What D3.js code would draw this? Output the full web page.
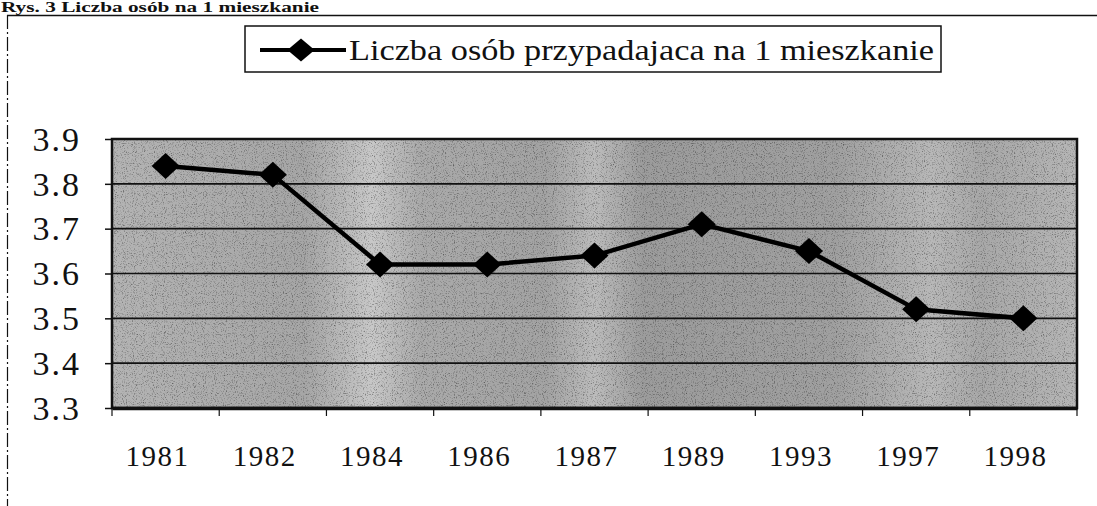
<!DOCTYPE html>
<html><head><meta charset="utf-8">
<script src="https://cdn.jsdelivr.net/npm/d3@7"></script>
<style>
html,body{margin:0;padding:0;background:#fff;}
svg{display:block;}
</style></head>
<body>
<svg id="chart" width="1097" height="506"></svg>
<script>
const years = ["1981","1982","1984","1986","1987","1989","1993","1997","1998"];
const persons = [3.84, 3.82, 3.62, 3.62, 3.64, 3.71, 3.65, 3.52, 3.50];
const yTicks = [3.3, 3.4, 3.5, 3.6, 3.7, 3.8, 3.9];
const seriesName = "Liczba osób przypadajaca na 1 mieszkanie";
const caption = "Rys. 3 Liczba osób na 1 mieszkanie";

const FONT = "'Liberation Serif'";
const svg = d3.select("#chart");
const L = 112, R = 1077, T = 139, B = 408;

const x = d3.scaleBand().domain(years).range([L, R]).paddingInner(0).paddingOuter(0);
const y = d3.scaleLinear().domain([3.3, 3.9]).range([B, T]);

const defs = svg.append("defs");
const grad = defs.append("linearGradient").attr("id","bg").attr("x1","0").attr("x2","1").attr("y1","0").attr("y2","0");
[[0,"#b4b4b4"],[0.2,"#a6a6a6"],[0.27,"#c8c8c8"],[0.32,"#aaaaaa"],[0.45,"#a3a3a3"],[0.5,"#bcbcbc"],[0.55,"#9c9c9c"],[0.75,"#a0a0a0"],[0.85,"#b8b8b8"],[0.9,"#a8a8a8"],[1,"#b6b6b6"]]
  .forEach(([o,c]) => grad.append("stop").attr("offset",o).attr("stop-color",c));
const f = defs.append("filter").attr("id","noise").attr("x","0").attr("y","0").attr("width","100%").attr("height","100%");
f.append("feTurbulence").attr("type","fractalNoise").attr("baseFrequency","0.9").attr("numOctaves","2").attr("seed","3").attr("result","n");
f.append("feColorMatrix").attr("in","n").attr("type","matrix")
  .attr("values","0 0 0 0 0  0 0 0 0 0  0 0 0 0 0  -2.2 0 0 0 1.05").attr("result","m");
f.append("feComposite").attr("in","m").attr("in2","SourceGraphic").attr("operator","in");

// caption (top)
svg.append("text").attr("x", 1).attr("y", 12).style("font-family", FONT).style("font-size","15px").style("font-weight","bold")
  .attr("fill","#111").attr("textLength",318).attr("lengthAdjust","spacingAndGlyphs").text(caption);

// outer frame
svg.append("line").attr("x1",7).attr("x2",1097).attr("y1",15.5).attr("y2",15.5).attr("stroke","#111").attr("stroke-width",1.5);
svg.append("line").attr("x1",7.5).attr("x2",7.5).attr("y1",15).attr("y2",506).attr("stroke","#111").attr("stroke-width",1.2).attr("stroke-dasharray","14 3 2 3");

// plot background
svg.append("rect").attr("x",L).attr("y",T).attr("width",R-L).attr("height",B-T).attr("fill","url(#bg)");
svg.append("rect").attr("x",L).attr("y",T).attr("width",R-L).attr("height",B-T).attr("fill","#fff").attr("filter","url(#noise)").attr("opacity",0.55);

// gridlines
svg.append("g").selectAll("line").data(yTicks.filter(d => d > 3.3 && d < 3.9)).join("line")
  .attr("x1",L).attr("x2",R).attr("y1",d=>y(d)).attr("y2",d=>y(d)).attr("stroke","#111").attr("stroke-width",1.6);

// border
svg.append("rect").attr("x",L).attr("y",T).attr("width",R-L).attr("height",B-T).attr("fill","none").attr("stroke","#111").attr("stroke-width",2.5);

// y axis
const yAxis = d3.axisLeft(y).tickValues(yTicks).tickFormat(d3.format(".1f")).tickSize(7).tickPadding(24);
const gy = svg.append("g").attr("transform",`translate(${L},0)`).call(yAxis);
gy.attr("font-family", null).attr("font-size", null);
gy.select(".domain").remove();
gy.selectAll("line").attr("stroke","#111").attr("stroke-width",1.5);
gy.selectAll("text").style("font-family", FONT).style("font-size","34px").attr("fill","#111").attr("dy","0.33em").attr("letter-spacing",2);

// x axis
const xAxis = d3.axisBottom(x).tickSize(0).tickPadding(37);
const gx = svg.append("g").attr("transform",`translate(0,${B})`).call(xAxis);
gx.attr("font-family", null).attr("font-size", null);
gx.select(".domain").attr("stroke","#111").attr("stroke-width",3.5);
gx.selectAll("text").style("font-family", FONT).style("font-size","29px").attr("fill","#111").attr("letter-spacing",1.5).attr("dx",-8);
// category tick marks at band boundaries
svg.append("g").selectAll("line").data(years.concat(["end"])).join("line")
  .attr("x1",(d,i)=> i<years.length ? x(d) : R).attr("x2",(d,i)=> i<years.length ? x(d) : R)
  .attr("y1",B).attr("y2",B+8).attr("stroke","#111").attr("stroke-width",1.2);

// line + markers
const cx = d => x(d) + x.bandwidth()/2;
svg.append("path").datum(years.map((d,i)=>[cx(d), y(persons[i])]))
  .attr("d", d3.line()).attr("fill","none").attr("stroke","#000").attr("stroke-width",4.5).attr("stroke-linejoin","round");
const diamond = d3.symbol().type(d3.symbolDiamond).size(195);
svg.append("g").selectAll("path").data(persons).join("path")
  .attr("d", diamond).attr("transform",(d,i)=>`translate(${cx(years[i])},${y(d)}) scale(1.87,1)`).attr("fill","#000");

// legend
const lg = svg.append("g");
lg.append("rect").attr("x",245).attr("y",26).attr("width",696).attr("height",46).attr("fill","#fff").attr("stroke","#111").attr("stroke-width",1.5);
lg.append("line").attr("x1",260).attr("x2",346).attr("y1",50).attr("y2",50).attr("stroke","#000").attr("stroke-width",4);
lg.append("path").attr("d", d3.symbol().type(d3.symbolDiamond).size(153)).attr("transform","translate(301,50) scale(2.05,1)").attr("fill","#000");
lg.append("text").attr("x",349).attr("y",60).style("font-family", FONT).style("font-size","30px").attr("fill","#111")
  .attr("textLength",585).attr("lengthAdjust","spacingAndGlyphs").text(seriesName);
</script>
</body></html>
